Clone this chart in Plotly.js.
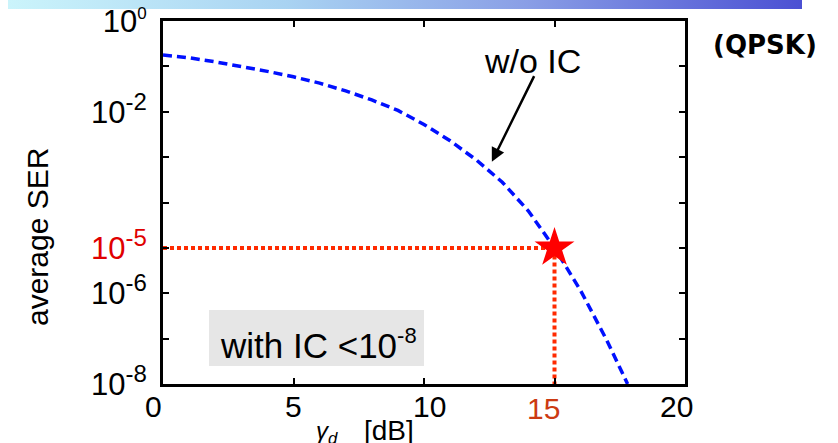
<!DOCTYPE html>
<html>
<head>
<meta charset="utf-8">
<script src="https://cdn.plot.ly/plotly-3.0.1.min.js"></script>
<style>
  html, body { margin: 0; padding: 0; background: #ffffff; }
  #wrap { position: relative; width: 838px; height: 443px; overflow: hidden; background: #ffffff; }
  #band { position: absolute; left: 8px; top: 0; width: 794px; height: 9px;
          background: linear-gradient(to right, #cbf4fb 0%, #a9d3f2 35%, #8a9fe6 65%, #4b50d3 100%);
          z-index: 0; }
  #chart { position: absolute; left: 0; top: 0; width: 838px; height: 443px; z-index: 1; }
</style>
</head>
<body>
<div id="wrap">
  <div id="band"></div>
  <div id="chart"></div>
</div>
<script>
// SNR axis (dB) and the average SER curve without interference cancellation
const gammaDb = [0, 1, 2, 3, 4, 5, 6, 7, 8, 9, 10, 11, 12, 13, 14, 15, 16, 17, 17.8];
const serNoIC = [0.178, 0.155, 0.126, 0.100, 0.0776, 0.0589, 0.0427, 0.0288, 0.0182, 0.0107,
                 5.25e-3, 2.29e-3, 8.7e-4, 2.8e-4, 6.5e-5, 1.0e-5, 1.15e-6, 9.3e-8, 1.0e-8];

// Operating point: target SER reached at 15 dB
const targetGammaDb = 15;
const targetSer = 1e-5;
const floorSer = 1e-8;

// Axis ticks and labels
const xTickVals = [0, 5, 10, 15, 20];
const xTickText = ['0', '5', '10', '15', '20'];
const yTickVals = [1, 1e-1, 1e-2, 1e-3, 1e-4, 1e-5, 1e-6, 1e-7, 1e-8];
const yTickExp = ['0', '', '-2', '', '', '-5', '-6', '', '-8'];

// Plot-area geometry (pixels)
const W = 838, H = 443;
const M = { l: 163, r: 153, t: 21, b: 59 };
const PW = W - M.l - M.r, PH = H - M.t - M.b;
const px = p => (p - M.l) / PW;      // pixel x -> paper x
const py = p => (H - M.b - p) / PH;  // pixel y -> paper y

const FONT = 'Liberation Sans, Arial, sans-serif';
const RED_LABEL = '#e00000';
const ORANGE_LABEL = '#cc3a12';
const GUIDE = '#ff2a00';

// per-label horizontal nudges for the x tick labels (pixels)
const xLabelNudge = [-10, 0, 5, -11, -9];
const xLabelColor = ['#000', '#000', '#000', ORANGE_LABEL, '#000'];

const traces = [
  {
    x: gammaDb, y: serNoIC, type: 'scatter', mode: 'lines',
    line: { color: '#0010ff', width: 3.5, dash: '9px,5px' },
    hoverinfo: 'skip'
  },
  {
    x: [0, targetGammaDb, targetGammaDb], y: [targetSer, targetSer, floorSer],
    type: 'scatter', mode: 'lines',
    line: { color: GUIDE, width: 4, dash: '4px,3px' },
    hoverinfo: 'skip'
  },
  {
    x: [targetGammaDb], y: [targetSer], type: 'scatter', mode: 'markers',
    marker: { symbol: 'star', size: 30, color: '#ff0000', line: { width: 0 } },
    cliponaxis: false, hoverinfo: 'skip'
  }
];

const yTicks = yTickExp.map((e, i) => {
  if (e === '') return '';
  const supSize = i === 0 ? 17 : 24;
  const t = '10<sup><span style="font-size:' + supSize + 'px">' + e + '</span></sup>';
  return i === 5 ? '<span style="color:' + RED_LABEL + '">' + t + '</span>' : t;
});

const annotations = [];
xTickVals.forEach((v, i) => {
  annotations.push({
    xref: 'x', yref: 'paper', x: v, y: py(406 + (i === 3 ? 3 : 0)),
    xanchor: 'center', yanchor: 'middle', xshift: xLabelNudge[i],
    text: xTickText[i], showarrow: false,
    font: { family: FONT, size: 30, color: xLabelColor[i] }
  });
});

annotations.push(
  { // y axis title
    xref: 'paper', yref: 'paper', x: px(37), y: py(237), xanchor: 'center', yanchor: 'middle',
    text: 'average SER', textangle: -90, showarrow: false,
    font: { family: FONT, size: 30, color: '#000' }
  },
  { // x axis title: gamma_d
    xref: 'paper', yref: 'paper', x: px(327), y: py(432), xanchor: 'center', yanchor: 'middle',
    text: '<i>γ<sub>d</sub></i>', showarrow: false,
    font: { family: FONT, size: 24, color: '#000' }
  },
  { // x axis unit
    xref: 'paper', yref: 'paper', x: px(389), y: py(430), xanchor: 'center', yanchor: 'middle',
    text: '[dB]', showarrow: false,
    font: { family: FONT, size: 28, color: '#000' }
  },
  { // curve label
    xref: 'paper', yref: 'paper', x: px(532), y: py(61), xanchor: 'center', yanchor: 'middle',
    text: 'w/o IC', showarrow: false,
    font: { family: FONT, size: 34, color: '#000' }
  },
  { // pointer from label to curve
    xref: 'x', yref: 'y', x: 12.6, y: -3.1,
    axref: 'pixel', ayref: 'pixel', ax: 43, ay: -87,
    text: '', showarrow: true, arrowhead: 2, arrowsize: 1.1, arrowwidth: 2.5, arrowcolor: '#000'
  },
  { // modulation tag
    xref: 'paper', yref: 'paper', x: px(765), y: py(45), xanchor: 'center', yanchor: 'middle',
    text: '<b>(QPSK)</b>', showarrow: false,
    font: { family: 'DejaVu Sans, sans-serif', size: 26, color: '#000' }
  },
  { // SER with interference cancellation
    xref: 'paper', yref: 'paper', x: px(219), y: py(344), xanchor: 'left', yanchor: 'middle',
    text: 'with IC &lt;10<sup><span style="font-size:22px">-8</span></sup>', showarrow: false,
    borderpad: 0,
    font: { family: FONT, size: 35, color: '#000' }
  }
);

const layout = {
  width: W, height: H,
  margin: M,
  paper_bgcolor: 'rgba(0,0,0,0)', plot_bgcolor: '#ffffff',
  showlegend: false,
  xaxis: {
    range: [0, 20], showgrid: false, zeroline: false,
    showline: true, linewidth: 3, linecolor: '#000', mirror: 'ticks',
    ticks: 'inside', ticklen: 6, tickwidth: 2, tickcolor: '#000',
    tickvals: xTickVals, showticklabels: false
  },
  yaxis: {
    type: 'log', range: [-8, 0], showgrid: false, zeroline: false,
    showline: true, linewidth: 3, linecolor: '#000', mirror: 'ticks',
    ticks: 'inside', ticklen: 6, tickwidth: 2, tickcolor: '#000',
    tickvals: yTickVals, ticktext: yTicks, ticklabelstandoff: 7,
    ticklabeloverflow: 'allow',
    tickfont: { family: FONT, size: 31, color: '#000' }
  },
  shapes: [
    { type: 'rect', xref: 'paper', yref: 'paper', x0: px(209), x1: px(424), y0: py(366), y1: py(310),
      fillcolor: '#e6e6e6', line: { width: 0 }, layer: 'below' }
  ],
  annotations: annotations
};

Plotly.newPlot('chart', traces, layout, { staticPlot: true, displayModeBar: false });
</script>
</body>
</html>
